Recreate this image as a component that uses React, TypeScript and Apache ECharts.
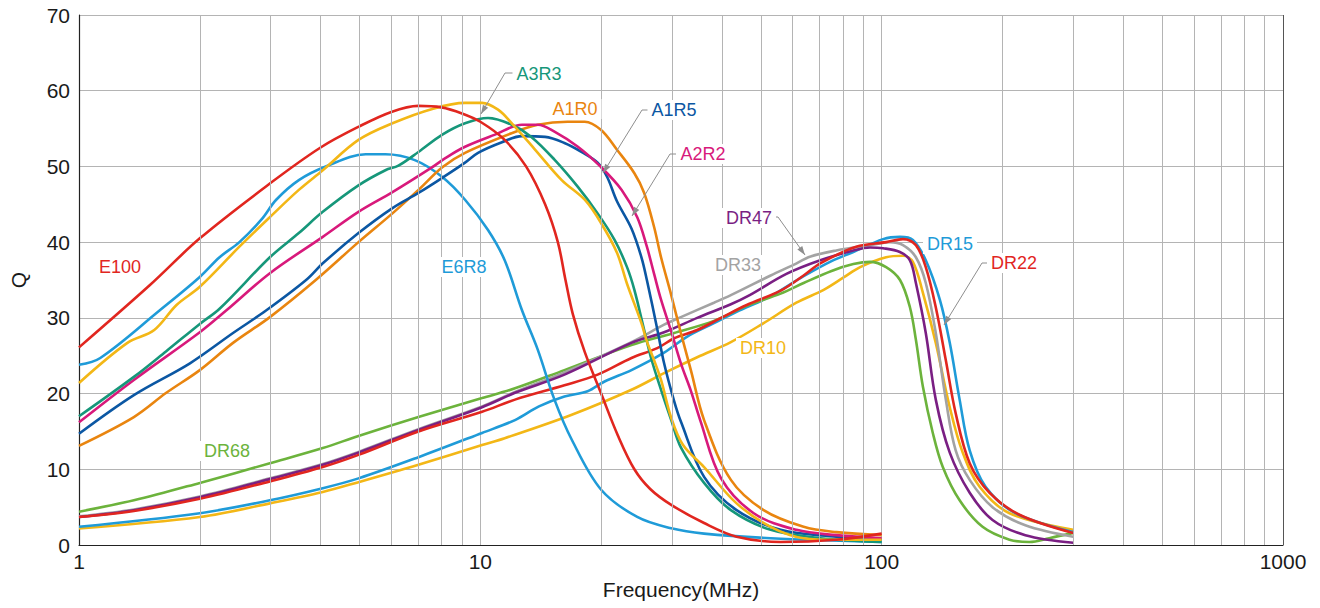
import React, { useEffect, useRef } from "react";
import * as echarts from "echarts";

// ---------- data (frequency MHz, Q) ----------
const E100 = [[1,26.1],[1.5,34.3],[2,40.5],[3,47.8],[4,52.5],[5,55.3],[6,57.2],[7,58],[8,57.8],[9,57],[10,55.9],[11.5,53.5],[13,50],[14.5,45],[15.6,40],[16.3,35],[17,30.5],[18.2,25.5],[20,20],[22,14.5],[24.2,10],[26.5,7.4],[29.9,5.3],[36.1,2.9],[43.5,1.1],[56,0.4],[77,0.7],[100,1.5]];
const E6R8 = [[1,23.8],[1.13,24.7],[1.59,31],[2,35.4],[2.24,38],[2.51,40],[2.85,43],[3.1,45.6],[3.53,48.2],[4.12,50],[5.18,51.6],[5.8,51.6],[6.89,50.8],[8.04,48.6],[9.16,45.6],[10.45,41.6],[11.5,37.6],[12.7,31],[13.9,25.8],[15.3,19.2],[16.9,13.9],[20,7.3],[24.6,3.7],[29.9,2.2],[36.1,1.5],[52.9,0.9],[100,0.4]];
const E4R7 = [[1,21.4],[1.32,26.7],[1.54,28.4],[1.75,31.7],[2,34.1],[2.51,39.4],[2.99,43.3],[3.53,46.9],[4.05,49.5],[4.97,53.5],[6.04,55.7],[7.59,57.6],[9.16,58.4],[10.1,58.4],[11.07,57.5],[11.98,55.7],[13.7,52.2],[15.95,48.2],[18.2,45.6],[20,42.5],[21.9,38.6],[23.2,34.5],[25.2,29.3],[26,26.9],[27.1,24.4],[28.2,21.8],[29.9,16.8],[32,13.2],[36.1,10.3],[43.5,5.5],[52.9,2.4],[63.9,0.9],[77.1,0.7],[100,0.7]];
const A3R3 = [[1,17],[1.37,22.2],[1.65,25.6],[2,29.2],[2.24,31.2],[2.99,38],[3.53,41.2],[4.05,44],[4.97,47.5],[5.8,49.5],[6.25,50.1],[7.01,51.9],[8.04,54.2],[9.16,55.7],[10.45,56.4],[11.98,55.5],[13.4,53.9],[15.3,50.9],[17.5,47.3],[19.6,43.8],[21.6,40.3],[23.2,36.7],[24.2,33.7],[25.6,28.4],[26.7,24.5],[28.2,20.5],[29.9,16.5],[31.6,12.9],[36.1,8.2],[42.1,4.6],[52.9,2],[70.3,0.9],[100,0.4]];
const A2R2 = [[1,16.2],[1.37,21.8],[2,28.1],[2.33,31],[2.99,35.9],[4.05,40.7],[4.97,44],[6.04,46.6],[7.59,49.9],[8.18,51.1],[9.16,52.6],[10.88,54.2],[12.7,55.5],[13.9,55.5],[15.3,54.6],[17.5,52.6],[20,49.9],[22.5,46.9],[24.6,43.3],[26,39.4],[27.1,35.8],[28.2,32.4],[29.9,28.2],[31.6,24],[33.5,20.3],[35.3,16.5],[39.8,8.8],[48,4.2],[61.3,2],[77.1,1.3],[100,0.9]];
const A1R5 = [[1,14.7],[1.37,19.8],[1.89,24],[2.42,28],[2.93,31],[3.68,35],[4.05,37.2],[4.97,41.2],[6.04,44.5],[7.01,46.5],[8.04,48.5],[9.16,50.5],[9.87,51.8],[11.32,53.2],[12.7,54],[14.5,53.9],[16.2,53.1],[17.9,51.9],[19.6,50.5],[20.7,48.6],[21.9,45.4],[23.8,41.8],[25.2,38],[26,35],[27.6,28.5],[28.7,24],[30.4,19],[31.6,16.3],[36.1,9],[43.5,4.6],[56,2],[77.1,1.1],[100,0.7]];
const A1R0 = [[1,13.1],[1.37,16.9],[1.65,20.1],[2,23.1],[2.42,26.7],[2.99,30.1],[3.89,35],[4.97,40],[6.04,43.8],[7.01,46.9],[8.04,49.9],[9.16,51.8],[11.98,54.4],[13.9,55.5],[16.5,55.9],[18.2,55.9],[20,54.8],[21.9,52.2],[24.2,49.1],[25.6,46.5],[27.1,42],[28.2,38],[29.9,33],[31.6,28],[33.5,23],[36.1,16.5],[42.1,8.6],[50.8,4.6],[63.9,2.4],[77.1,1.7],[100,1.3]];

const DR68 = [[1,4.4],[1.37,5.9],[2,8.2],[2.99,10.8],[4.05,12.8],[4.97,14.4],[7.01,16.9],[10.1,19.4],[12.2,20.7],[16.2,23.1],[23.8,26.4],[30.4,28],[38.2,29.6],[46.1,31.6],[56,33.2],[63.9,34.6],[75,36.2],[85,37.1],[93.6,37.4],[102.6,36.7],[111.1,35],[117.6,31.4],[121.7,27.1],[126.7,20.9],[134.1,14.8],[142,10.3],[156.4,5.9],[178.4,2.4],[208.2,0.7],[233.4,0.4],[261.6,0.9],[300,1.6]];
const DR47 = [[1,3.7],[1.37,4.6],[2,6.3],[2.99,8.7],[4.05,10.6],[4.97,12.2],[7.01,15.2],[10.1,18.2],[12.2,20.1],[16.2,22.5],[23.8,26.7],[28.7,28.1],[34.7,30],[42.1,31.8],[46.9,33],[57.9,35.8],[70.3,37.6],[85,38.9],[93.6,39.3],[100.8,39.2],[111,38.7],[117.6,37.6],[121.7,34.6],[128.8,28],[136.4,19.2],[147.8,12.2],[165.7,6.9],[188.9,3.3],[228,1.3],[300,0.3]];
const DR33 = [[1,3.8],[1.37,4.7],[2,6.4],[2.99,8.8],[4.05,10.7],[4.97,12.3],[7.01,15.3],[10.1,18.3],[12.2,20.2],[16.2,22.8],[23.8,26.8],[28.7,29.1],[31.6,30.1],[38.2,32],[42.1,33],[52.9,35.6],[60.3,37],[66.5,38.1],[77.1,38.9],[93.6,39.6],[104.9,40],[113,39.6],[121.7,38],[128.8,34.6],[136.4,28],[144.5,19.2],[152.9,12.5],[165.7,8.6],[188.9,5],[228,2.6],[300,1.1]];
const DR22 = [[1,3.7],[1.37,4.5],[2,6.1],[2.99,8.4],[4.05,10.3],[4.97,11.9],[7.01,15],[10.1,17.6],[12.2,19.2],[16.2,21.1],[19.6,22.5],[23.8,24.7],[27.6,26],[30.4,27.3],[34.7,28.4],[39.8,30],[46.1,31.7],[56,33.6],[63.9,35.6],[70.3,37.2],[86.4,39.4],[102.6,40],[113,40.4],[121.7,39.6],[128.8,36.7],[136.4,31.4],[144.5,24.4],[152.9,17.4],[165.7,10.8],[185.7,6.9],[220.4,4],[300,1.6]];
const DR15 = [[1,2.4],[2,4.2],[2.99,5.9],[4.05,7.5],[4.97,8.8],[7.01,11.6],[10.1,14.8],[12.2,16.5],[14,18.3],[16.2,19.6],[18.5,20.3],[20.4,21.6],[23.8,23.1],[28.7,25.4],[32.7,27.5],[38.2,29.3],[43.5,30.8],[50.8,32.4],[54.7,33.3],[63.9,35.5],[75,37.5],[85,38.7],[100.8,40.4],[111.1,40.7],[119.6,40.3],[128.8,37.6],[139.6,32.4],[147.8,26.7],[156.4,19.2],[165.7,12.5],[181.5,7.7],[215.4,4.2],[300,1.7]];
const DR10 = [[1,2.2],[2,3.7],[2.99,5.5],[4.05,7],[4.97,8.3],[7.01,10.6],[10.1,13.2],[11.5,14.1],[16.9,17.2],[23.8,20.5],[28.7,22.7],[34.7,24.8],[42.1,26.8],[50.8,29.3],[61.3,32],[71.7,33.7],[80.2,35.3],[88.4,36.7],[102.6,38],[113,38.2],[119.6,37.4],[126.7,33.3],[136.4,26.7],[147.8,18.2],[159.2,12.2],[175.4,7.7],[208.2,4.2],[300,2]];

const MINOR_FREQS = [2,3,4,5,6,7,8,9,20,30,40,50,60,70,80,90,200,300,400,500,600,700,800,900];

const C = {
  red: "#e1261f",
  sky: "#1f9bd8",
  yellow: "#f3b716",
  teal: "#16977a",
  magenta: "#d8197b",
  navy: "#0b57a3",
  orange: "#e9850f",
  green: "#6cb33c",
  purple: "#7a1f83",
  gray: "#a3a3a3",
};

const SERIES = [
  { name: "DR10", color: C.yellow, data: DR10 },
  { name: "DR15", color: C.sky, data: DR15 },
  { name: "DR68", color: C.green, data: DR68 },
  { name: "DR33", color: C.gray, data: DR33 },
  { name: "DR47", color: C.purple, data: DR47 },
  { name: "DR22", color: C.red, data: DR22 },
  { name: "E6R8", color: C.sky, data: E6R8 },
  { name: "A1R0", color: C.orange, data: A1R0 },
  { name: "A1R5", color: C.navy, data: A1R5 },
  { name: "A2R2", color: C.magenta, data: A2R2 },
  { name: "A3R3", color: C.teal, data: A3R3 },
  { name: "E4R7", color: C.yellow, data: E4R7 },
  { name: "E100", color: C.red, data: E100 },
];

const LABELS = [
  { text: "E100", color: C.red, x: 120, y: 267 },
  { text: "E6R8", color: C.sky, x: 464, y: 267 },
  { text: "A3R3", color: C.teal, x: 539, y: 74 },
  { text: "A1R0", color: C.orange, x: 575, y: 109 },
  { text: "A1R5", color: C.navy, x: 674, y: 110 },
  { text: "A2R2", color: C.magenta, x: 703, y: 154 },
  { text: "DR47", color: C.purple, x: 749, y: 218 },
  { text: "DR33", color: C.gray, x: 738, y: 265 },
  { text: "DR10", color: C.yellow, x: 763, y: 348 },
  { text: "DR15", color: C.sky, x: 950, y: 244 },
  { text: "DR22", color: C.red, x: 1014, y: 263 },
  { text: "DR68", color: C.green, x: 227, y: 451 },
];

const LEADERS = [
  [[514, 73], [505, 73], [481, 114]],
  [[648, 110], [642, 110], [603, 173]],
  [[676, 154], [670, 154], [632, 216]],
  [[772, 217], [778, 217], [805, 255]],
  [[988, 263], [982, 263], [944, 325]],
];

const FONT = '"Liberation Sans", Arial, Helvetica, sans-serif';

function arrowHead(pts: number[][]) {
  const a = pts[pts.length - 2];
  const b = pts[pts.length - 1];
  const dx = b[0] - a[0];
  const dy = b[1] - a[1];
  const len = Math.sqrt(dx * dx + dy * dy);
  const ux = dx / len, uy = dy / len;
  const nx = -uy, ny = ux;
  const L = 9, W = 3;
  const bx = b[0] - ux * L, by = b[1] - uy * L;
  return [[b[0], b[1]], [bx + nx * W, by + ny * W], [bx - nx * W, by - ny * W]];
}

export default function App() {
  const ref = useRef<HTMLDivElement>(null);
  useEffect(() => {
    if (!ref.current) return;
    const chart = echarts.init(ref.current, undefined, { renderer: "svg" });
    const lineSeries: any[] = SERIES.map((s) => ({
      name: s.name,
      type: "line",
      data: s.data,
      smooth: 0.35,
      showSymbol: false,
      symbol: "none",
      z: 3,
      lineStyle: { color: s.color, width: 2.6 },
      itemStyle: { color: s.color },
      silent: true,
    }));
    const gridSeries = {
      name: "minorGrid",
      type: "line",
      data: [],
      z: 1,
      silent: true,
      markLine: {
        silent: true,
        symbol: ["none", "none"],
        label: { show: false },
        lineStyle: { color: "#b4b4b4", type: "solid", width: 1 },
        data: MINOR_FREQS.map((f) => ({ xAxis: f })),
      },
    };
    const borderSeries = {
      name: "rightBorder",
      type: "line",
      data: [],
      z: 1,
      silent: true,
      markLine: {
        silent: true,
        symbol: ["none", "none"],
        label: { show: false },
        lineStyle: { color: "#555", type: "solid", width: 1 },
        data: [{ xAxis: 1000 }],
      },
    };
    const graphics: any[] = [];
    LEADERS.forEach((pts) => {
      graphics.push({
        type: "polyline",
        z: 50,
        shape: { points: pts },
        style: { stroke: "#8e8e8e", lineWidth: 1, fill: null },
      });
      graphics.push({
        type: "polygon",
        z: 50,
        shape: { points: arrowHead(pts) },
        style: { fill: "#8e8e8e", stroke: "none" },
      });
    });
    LABELS.forEach((l) => {
      graphics.push({
        type: "text",
        z: 60,
        x: l.x,
        y: l.y,
        style: {
          text: l.text,
          fill: l.color,
          fontSize: 18,
          fontFamily: FONT,
          align: "center",
          verticalAlign: "middle",
          backgroundColor: "#ffffff",
          padding: [1, 4],
        },
      });
    });

    chart.setOption({
      animation: false,
      backgroundColor: "#ffffff",
      grid: { left: 72, top: 15, width: 1211, height: 530, containLabel: false },
      xAxis: {
        type: "log",
        logBase: 10,
        min: 1,
        max: 1000,
        name: "Frequency(MHz)",
        nameLocation: "middle",
        nameGap: 34,
        nameTextStyle: { fontSize: 21, color: "#1a1a1a", fontFamily: FONT },
        axisLine: { show: true, lineStyle: { color: "#222", width: 1.2 } },
        axisTick: { show: false },
        axisLabel: {
          fontSize: 21,
          color: "#1a1a1a",
          fontFamily: FONT,
          margin: 6,
          formatter: (v: number) => String(Math.round(v)),
        },
        splitLine: { show: true, lineStyle: { color: "#b4b4b4", width: 1 } },
        minorSplitLine: { show: false },
      },
      yAxis: {
        type: "value",
        min: 0,
        max: 70,
        interval: 10,
        name: "Q",
        nameLocation: "middle",
        nameGap: 50,
        nameTextStyle: { fontSize: 21, color: "#1a1a1a", fontFamily: FONT },
        axisLine: { show: true, lineStyle: { color: "#222", width: 1.2 } },
        axisTick: { show: false },
        axisLabel: { fontSize: 21, color: "#1a1a1a", fontFamily: FONT, margin: 9 },
        splitLine: { show: true, lineStyle: { color: "#b4b4b4", width: 1 } },
      },
      series: [gridSeries, borderSeries, ...lineSeries],
      graphic: graphics,
    });
    return () => chart.dispose();
  }, []);
  return (
    <div
      ref={ref}
      style={{ position: "fixed", left: 0, top: 0, width: 1320, height: 608, background: "#fff" }}
    />
  );
}
